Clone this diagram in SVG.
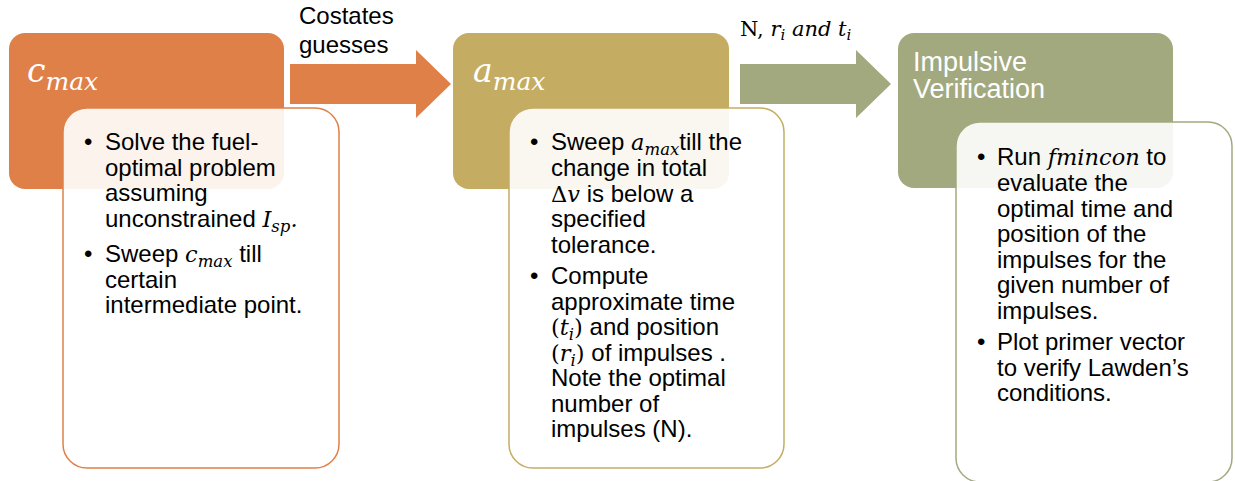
<svg xmlns="http://www.w3.org/2000/svg" width="1235" height="481" viewBox="0 0 1235 481">
  <defs>
    <style>
      .hdr { fill: #ffffff; font-family: "Liberation Sans", Arial, sans-serif; font-size: 27px; }
      .hmath { fill: #ffffff; font-family: "DejaVu Serif", "Liberation Serif", serif; font-style: italic; font-size: 33px; }
      .hsub { font-size: 25px; }
      .body { fill: #000000; font-family: "Liberation Sans", Arial, sans-serif; font-size: 24px; }
      .m { font-family: "DejaVu Serif", "Liberation Serif", serif; font-style: italic; font-size: 22.5px; }
      .mu { font-family: "DejaVu Serif", "Liberation Serif", serif; font-style: normal; font-size: 22.5px; }
      .sub { font-family: "DejaVu Serif", "Liberation Serif", serif; font-style: italic; font-size: 16.5px; }
      .lbl { fill: #000000; font-family: "Liberation Sans", Arial, sans-serif; font-size: 24px; }
      .lblm { fill: #000000; font-family: "DejaVu Serif", "Liberation Serif", serif; font-size: 21px; }
      .card { fill: #ffffff; fill-opacity: 0.9; stroke-width: 1.5; }
    </style>
  </defs>

  <!-- stage 1: c_max -->
  <g id="node-cmax">
    <rect x="9" y="33" width="275" height="156" rx="16" fill="#DF8049"/>
    <text class="hmath" x="27" y="82">c<tspan class="hsub" dy="8">max</tspan></text>
  </g>
  <g id="node-cmax-steps">
    <rect class="card" x="63" y="108" width="276" height="360" rx="24" stroke="#DF8049"/>
    <text class="body">
      <tspan x="84" y="150">•</tspan><tspan x="105" y="150">Solve the fuel-</tspan>
      <tspan x="105" y="175.5">optimal problem</tspan>
      <tspan x="105" y="201">assuming</tspan>
      <tspan x="105" y="226.5">unconstrained </tspan><tspan class="m">I</tspan><tspan class="sub" dy="5">sp</tspan><tspan class="m" dy="-5">.</tspan>
      <tspan x="84" y="262">•</tspan><tspan x="105" y="262">Sweep </tspan><tspan class="m">c</tspan><tspan class="sub" dy="5">max</tspan><tspan dy="-5"> till</tspan>
      <tspan x="105" y="287.5">certain</tspan>
      <tspan x="105" y="313">intermediate point.</tspan>
    </text>
  </g>

  <!-- stage 2: a_max -->
  <g id="node-amax">
    <rect x="453" y="33" width="276" height="156" rx="16" fill="#C4AD62"/>
    <text class="hmath" x="473" y="82">a<tspan class="hsub" dy="8">max</tspan></text>
  </g>
  <g id="node-amax-steps">
    <rect class="card" x="509" y="108" width="275" height="360" rx="24" stroke="#C4AD62"/>
    <text class="body">
      <tspan x="530" y="150">•</tspan><tspan x="551" y="150">Sweep </tspan><tspan class="m">a</tspan><tspan class="sub" dy="5">max</tspan><tspan dy="-5">till the</tspan>
      <tspan x="551" y="176">change in total</tspan>
      <tspan x="551" y="201.5" class="mu">Δ</tspan><tspan class="m">v</tspan><tspan> is below a</tspan>
      <tspan x="551" y="227">specified</tspan>
      <tspan x="551" y="252.5">tolerance.</tspan>
      <tspan x="530" y="284">•</tspan><tspan x="551" y="284">Compute</tspan>
      <tspan x="551" y="309.5">approximate time</tspan>
      <tspan x="551" y="335" class="mu">(</tspan><tspan class="m">t</tspan><tspan class="sub" dy="5">i</tspan><tspan class="mu" dy="-5">)</tspan><tspan> and position</tspan>
      <tspan x="551" y="360.5" class="mu">(</tspan><tspan class="m">r</tspan><tspan class="sub" dy="5">i</tspan><tspan class="mu" dy="-5">)</tspan><tspan> of impulses .</tspan>
      <tspan x="551" y="386">Note the optimal</tspan>
      <tspan x="551" y="411.5">number of</tspan>
      <tspan x="551" y="437">impulses (N).</tspan>
    </text>
  </g>

  <!-- stage 3: impulsive verification -->
  <g id="node-verify">
    <rect x="898" y="33" width="275" height="155" rx="16" fill="#A3A97F"/>
    <text class="hdr"><tspan x="913" y="71">Impulsive</tspan><tspan x="913" y="97.5">Verification</tspan></text>
  </g>
  <g id="node-verify-steps">
    <rect class="card" x="956" y="122" width="276" height="360" rx="24" stroke="#A3A97F"/>
    <text class="body">
      <tspan x="977" y="165">•</tspan><tspan x="997" y="165">Run </tspan><tspan class="m">fmincon</tspan><tspan> to</tspan>
      <tspan x="997" y="191">evaluate the</tspan>
      <tspan x="997" y="216.5">optimal time and</tspan>
      <tspan x="997" y="242">position of the</tspan>
      <tspan x="997" y="267.5">impulses for the</tspan>
      <tspan x="997" y="293">given number of</tspan>
      <tspan x="997" y="318.5">impulses.</tspan>
      <tspan x="977" y="350">•</tspan><tspan x="997" y="350">Plot primer vector</tspan>
      <tspan x="997" y="375.5">to verify Lawden’s</tspan>
      <tspan x="997" y="401">conditions.</tspan>
    </text>
  </g>

  <!-- block arrows between stages -->
  <g id="connectors">
    <polygon points="290,64 416,64 416,50 451,84 416,118 416,104 290,104" fill="#DF8049"/>
    <polygon points="740,64 856,64 856,50 891,84 856,118 856,104 740,104" fill="#A3A97F"/>
    <text class="lbl"><tspan x="299" y="24">Costates</tspan><tspan x="299" y="52.5">guesses</tspan></text>
    <text class="lblm" x="740" y="36">N, <tspan font-style="italic">r</tspan><tspan font-style="italic" font-size="15" dy="4">i</tspan><tspan font-style="italic" dy="-4"> and t</tspan><tspan font-style="italic" font-size="15" dy="4">i</tspan></text>
  </g>
</svg>
